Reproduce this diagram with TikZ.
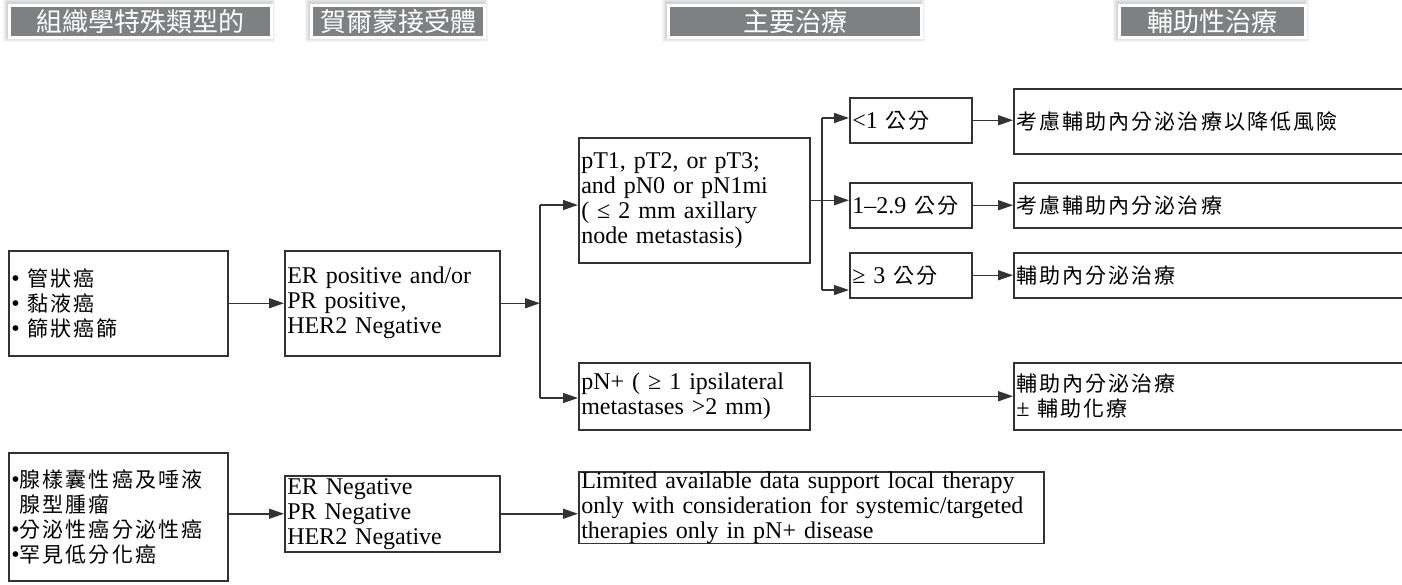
\documentclass[tikz,border=0pt]{standalone}
\usepackage{fontspec}
\setmainfont{Liberation Serif}
\newfontfamily\cjkfont[LetterSpace=10]{Noto Sans CJK TC}
\newfontfamily\hdfont{Noto Sans CJK TC}
\usetikzlibrary{arrows.meta}
\definecolor{hdgray}{HTML}{7F8084}
\definecolor{ln}{HTML}{333333}
\newcommand\zh[1]{{\cjkfont\fontsize{21}{25}\selectfont #1}}
% header tab with a soft halo around it
\newcommand\hdrtab[4]{%
  \foreach \g in {1,...,5}{\fill[black,opacity=0.035] ({#2-\g},{3-\g}) rectangle ({#3+\g},{37+\g});}
  \node[hdr, minimum width={(#3-#2)*1pt}] (#1) at (#2,4) {#4};}
\tikzset{
  box/.style={draw=ln, line width=1.5pt, anchor=north west, inner xsep=2.5pt, inner ysep=0pt,
              align=left, font=\fontsize{24}{25}\selectfont},
  hdr/.style={fill=hdgray, draw=white, line width=3pt, text=white, anchor=north west,
              inner sep=0pt, minimum height=32pt, font=\hdfont\fontsize{26}{26}\selectfont},
  con/.style={draw=ln, line width=1.5pt},
  arr/.style={con, -{Triangle[length=15pt,width=10pt]}},
}
\begin{document}
\begin{tikzpicture}[x=1pt,y=-1pt]
\useasboundingbox (0,0) rectangle (1402,584);
\fill[white] (0,0) rectangle (1402,584);
\clip (0,0) rectangle (1402,584);

% column headings
\hdrtab{h1}{8}{270}{組織學特殊類型的}
\hdrtab{h2}{310}{483}{賀爾蒙接受體}
\hdrtab{h3}{667}{920}{主要治療}
\hdrtab{h4}{1118}{1304}{輔助性治療}

% histology
\node[box, text width=214pt, minimum height=105pt] (A1) at (8,250)
  {• \zh{管狀癌}\\• \zh{黏液癌}\\• \zh{篩狀癌篩}};
\node[box, text width=214pt, minimum height=128pt] (A2) at (8,452)
  {•\zh{腺樣囊性癌及唾液}\\\phantom{•}\zh{腺型腫瘤}\\•\zh{分泌性癌分泌性癌}\\•\zh{罕見低分化癌}};

% hormone receptors
\node[box, text width=210pt, minimum height=105pt] (B1) at (284,250)
  {ER positive and/or\\PR positive,\\HER2 Negative};
\node[box, text width=210pt, minimum height=76pt] (B2) at (284,475)
  {ER Negative\\PR Negative\\HER2 Negative};

% primary treatment
\node[box, text width=226pt, minimum height=125pt] (C1) at (578,137)
  {pT1, pT2, or pT3;\\and pN0 or pN1mi\\( ≤ 2 mm axillary\\node metastasis)};
\node[box, text width=226pt, minimum height=67pt] (C2) at (578,362)
  {pN+ ( ≥ 1 ipsilateral\\metastases >2 mm)};
\node[box, text width=460pt, minimum height=70pt] (C3) at (578,471)
  {Limited available data support local therapy\\only with consideration for systemic/targeted\\therapies only in pN+ disease};

% tumour size
\node[box, text width=117pt, minimum height=45pt] (D1) at (849,97) {<1 \zh{公分}};
\node[box, text width=117pt, minimum height=45pt] (D2) at (849,182) {1–2.9 \zh{公分}};
\node[box, text width=117pt, minimum height=45pt] (D3) at (849,252) {≥ 3 \zh{公分}};

% adjuvant treatment
\node[box, text width=420pt, minimum height=65pt] (E1) at (1013,88) {\zh{考慮輔助內分泌治療以降低風險}};
\node[box, text width=420pt, minimum height=45pt] (E2) at (1013,182) {\zh{考慮輔助內分泌治療}};
\node[box, text width=420pt, minimum height=45pt] (E3) at (1013,252) {\zh{輔助內分泌治療}};
\node[box, text width=420pt, minimum height=67pt] (E4) at (1013,362) {\zh{輔助內分泌治療}\\± \zh{輔助化療}};

% connectors
\coordinate (s1t) at (540,205);
\coordinate (s1b) at (540,398);
\coordinate (s2t) at (822,118);
\coordinate (s2b) at (822,290);

\draw[arr] (A1.east) -- (B1.west);
\draw[arr] (B1.east) -- (B1.east -| s1t);
\draw[con] (s1t) -- (s1b);
\draw[arr] (s1t) -- (s1t -| C1.west);
\draw[arr] (s1b) -- (s1b -| C2.west);

\draw[con] (C1.east) -- (C1.east -| s2t);
\draw[con] (s2t) -- (s2b);
\draw[arr] (s2t) -- (s2t -| D1.west);
\draw[arr] (C1.east -| s2t) -- (C1.east -| D2.west);
\draw[arr] (s2b) -- (s2b -| D3.west);

\draw[arr] (D1.east) -- (D1.east -| E1.west);
\draw[arr] (D2.east) -- (D2.east -| E2.west);
\draw[arr] (D3.east) -- (D3.east -| E3.west);
\draw[arr] (C2.east) -- (C2.east -| E4.west);

\draw[arr] (A2.east |- B2.west) -- (B2.west);
\draw[arr] (B2.east) -- (B2.east -| C3.west);
\end{tikzpicture}
\end{document}
